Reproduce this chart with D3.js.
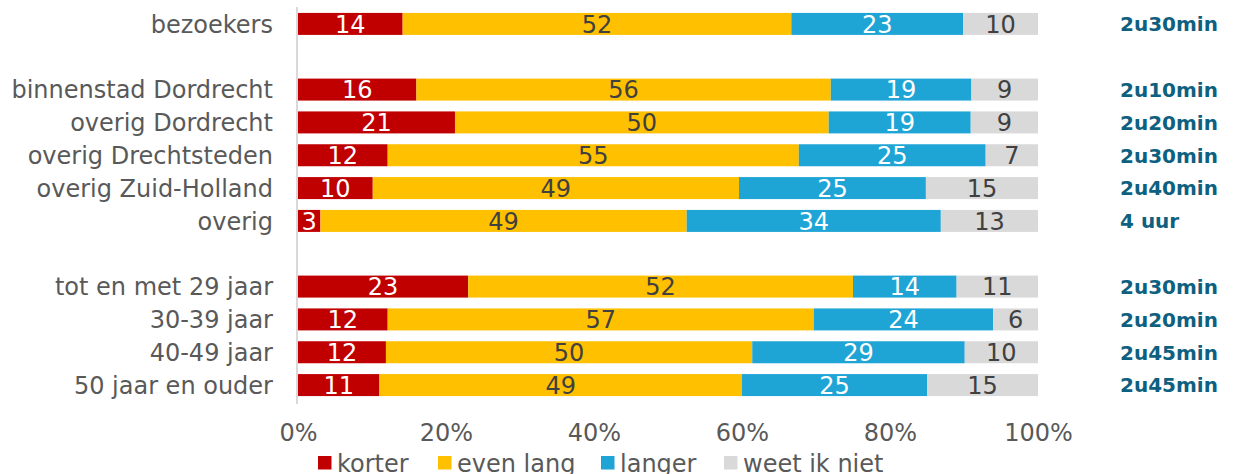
<!DOCTYPE html>
<html><head><meta charset="utf-8">
<script src="https://cdn.jsdelivr.net/npm/d3@7"></script>
<style>body{margin:0;background:#fff;}svg{display:block;font-family:"DejaVu Sans",Verdana,sans-serif;}</style>
</head><body><svg id="c" width="1250" height="474"></svg>
<script>
const categories = ["bezoekers","","binnenstad Dordrecht","overig Dordrecht","overig Drechtsteden","overig Zuid-Holland","overig"," ","tot en met 29 jaar","30-39 jaar","40-49 jaar","50 jaar en ouder"];
const korter   = [14,null,16,21,12,10,3,null,23,12,12,11];
const evenLang = [52,null,56,50,55,49,49,null,52,57,50,49];
const langer   = [23,null,19,19,25,25,34,null,14,24,29,25];
const weetNiet = [10,null,9,9,7,15,13,null,11,6,10,15];
const duur     = ["2u30min","","2u10min","2u20min","2u30min","2u40min","4 uur","","2u30min","2u20min","2u45min","2u45min"];
const seriesNames = ["korter","even lang","langer","weet ik niet"];
const xTicks = [0,0.2,0.4,0.6,0.8,1];

const colors = ["#C00000","#FFC000","#1FA5D5","#D9D9D9"];
const textColors = ["#ffffff","#404040","#ffffff","#404040"];
const svg = d3.select("#c");
const x = d3.scaleLinear().domain([0,1]).range([298,1038]);
const y = d3.scaleBand().domain(categories.map((c,i)=>i)).range([7.5,401.5]).paddingInner(0.33).paddingOuter(0.165);

const rows = categories.map((c,i)=>({i, c, k:korter[i], e:evenLang[i], l:langer[i], w:weetNiet[i]}));
const dataRows = rows.filter(r=>r.k!=null);
const keys = ["k","e","l","w"];
const stack = d3.stack().keys(keys).offset(d3.stackOffsetExpand);
const stacked = stack(dataRows);

// axis line
svg.append("line").attr("x1",x(0)-1).attr("x2",x(0)-1).attr("y1",7).attr("y2",404).attr("stroke","#d9d9d9").attr("stroke-width",2);

stacked.forEach((s,si)=>{
  const g = svg.append("g");
  g.selectAll("rect").data(s).enter().append("rect")
    .attr("x",d=>x(d[0])).attr("width",d=>x(d[1])-x(d[0]))
    .attr("y",d=>y(d.data.i)).attr("height",y.bandwidth())
    .attr("fill",colors[si]);
  g.selectAll("text").data(s).enter().append("text")
    .attr("x",d=>(x(d[0])+x(d[1]))/2).attr("y",d=>y(d.data.i)+y.bandwidth()/2)
    .attr("dy","0.37em").attr("text-anchor","middle")
    .attr("font-size",24).attr("fill",textColors[si])
    .text(d=>d.data[keys[si]]);
});

// category labels
svg.append("g").selectAll("text").data(rows.filter(r=>r.c.trim()!=="")).enter().append("text")
  .attr("x",273).attr("y",d=>y(d.i)+y.bandwidth()/2).attr("dy","0.37em")
  .attr("text-anchor","end").attr("font-size",24).attr("fill","#595959").text(d=>d.c);

// duration labels
svg.append("g").selectAll("text").data(rows.filter(r=>duur[r.i]!=="")).enter().append("text")
  .attr("x",1120).attr("y",d=>y(d.i)+y.bandwidth()/2).attr("dy","0.37em")
  .attr("font-size",20).attr("font-weight","bold").attr("fill","#0E6080").text(d=>duur[d.i]);

// x axis
const ax = svg.append("g").attr("transform","translate(0,420)")
  .call(d3.axisBottom(x).tickValues(xTicks).tickFormat(d3.format(".0%")).tickSize(0).tickPadding(4));
ax.select(".domain").remove();
ax.selectAll("text").attr("font-size",24).attr("fill","#595959").attr("font-family","DejaVu Sans, Verdana, sans-serif");

// legend
const legX = [318,438,601,724];
const lg = svg.append("g");
seriesNames.forEach((n,i)=>{
  lg.append("rect").attr("x",legX[i]).attr("y",456).attr("width",13.5).attr("height",13.5).attr("fill",colors[i]);
  lg.append("text").attr("x",legX[i]+19).attr("y",463).attr("dy","0.37em").attr("font-size",24).attr("fill","#595959").text(n);
});
</script></body></html>
